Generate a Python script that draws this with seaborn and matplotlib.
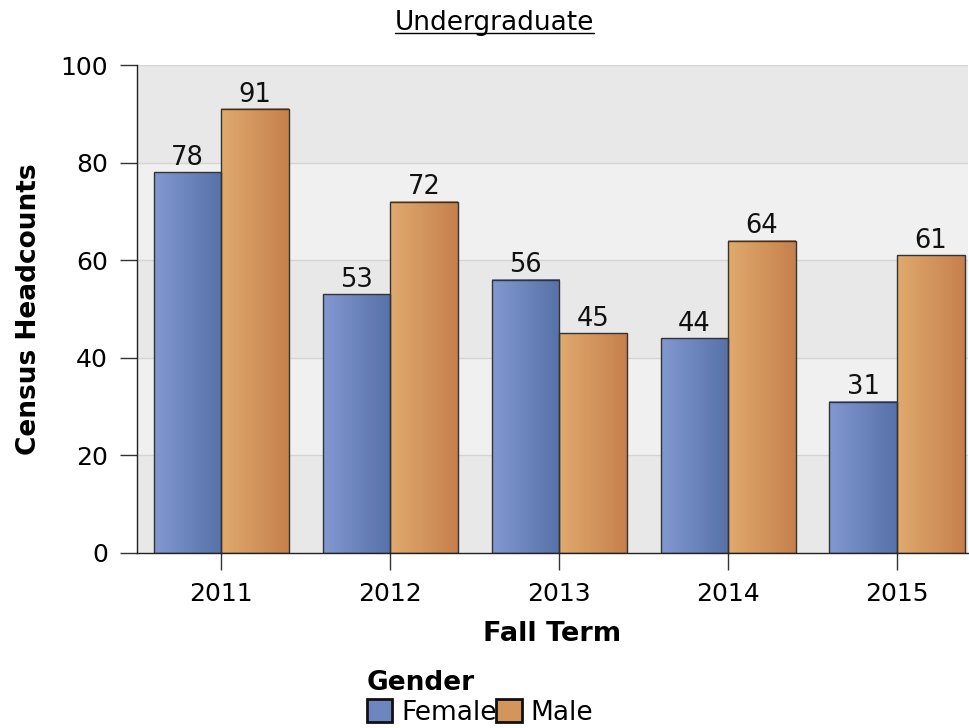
import numpy as np
import pandas as pd
import seaborn as sns
import matplotlib.pyplot as plt
from matplotlib.patches import Patch

sns.set_theme(style="white")
plt.rcParams['font.family'] = ['DejaVu Sans']
plt.rcParams['text.color'] = 'black'
plt.rcParams['axes.labelcolor'] = 'black'
plt.rcParams['xtick.color'] = 'black'
plt.rcParams['ytick.color'] = 'black'

terms = ["2011", "2012", "2013", "2014", "2015"]
female = [78, 53, 56, 44, 31]
male = [91, 72, 45, 64, 61]

df = pd.DataFrame({
    "Fall Term": terms * 2,
    "Census Headcounts": female + male,
    "Gender": ["Female"] * 5 + ["Male"] * 5,
})

grad = {
    "Female": ("#8298d0", "#5672a8"),
    "Male": ("#e0aa6e", "#c6804c"),
}
mid = {"Female": "#6d86bf", "Male": "#d4955d"}

fig = plt.figure(figsize=(9.7, 7.28), dpi=100)
ax = fig.add_axes([0.1412, 0.2404, 0.8567, 0.6703])

# alternating bands
for i, lo in enumerate(range(0, 100, 20)):
    ax.axhspan(lo, lo + 20, color="#e8e8e8" if i % 2 == 0 else "#f0f0f0", zorder=0, lw=0)
for v in [20, 40, 60, 80, 100]:
    ax.axhline(v, color="#d4d4d4", lw=1, zorder=0.5)

sns.barplot(data=df, x="Fall Term", y="Census Headcounts", hue="Gender",
            palette=mid, edgecolor="#333333", linewidth=1, width=0.8,
            legend=False, ax=ax, zorder=2)

# horizontal gradient fill on every bar
for cont, g in zip(ax.containers, ["Female", "Male"]):
    c0, c1 = grad[g]
    rgb0 = np.array(plt.matplotlib.colors.to_rgb(c0))
    rgb1 = np.array(plt.matplotlib.colors.to_rgb(c1))
    t = np.linspace(0, 1, 64)[None, :, None]
    img = rgb0 + (rgb1 - rgb0) * t
    for p in cont:
        x, w, h = p.get_x(), p.get_width(), p.get_height()
        ax.imshow(img, extent=[x, x + w, 0, h], aspect="auto", zorder=1.5,
                  interpolation="bilinear")
        p.set_facecolor("none")
    ax.bar_label(cont, fontsize=18.5, padding=1, color="#111111")

ax.set_xlim(-0.5, 4.42)
ax.set_ylim(0, 100)
ax.set_yticks([0, 20, 40, 60, 80, 100])
ax.tick_params(axis="both", labelsize=18, length=12, width=1, color="#333333",
               left=True, bottom=True)
ax.tick_params(axis="y", pad=9)
ax.tick_params(axis="x", pad=9)
ax.set_xlabel("Fall Term", fontsize=19.5, fontweight="bold", labelpad=11)
ax.set_ylabel("Census Headcounts", fontsize=19, fontweight="bold", labelpad=13)
for s in ["top", "right"]:
    ax.spines[s].set_visible(False)
for s in ["left", "bottom"]:
    ax.spines[s].set_color("#222222")
    ax.spines[s].set_linewidth(1)

# underlined title
title = fig.text(0.510, 0.969, "Undergraduate", fontsize=19, ha="center", va="center")
fig.canvas.draw()
bb = title.get_window_extent().transformed(fig.transFigure.inverted())
fig.add_artist(plt.Line2D([bb.x0, bb.x1], [bb.y0 + 0.003, bb.y0 + 0.003],
                          color="black", lw=1, transform=fig.transFigure))

handles = [Patch(facecolor=mid[g], edgecolor="#111111", linewidth=2, label=g)
           for g in ["Female", "Male"]]
leg = fig.legend(handles=handles, title="Gender", ncol=2, loc="upper left",
                 bbox_to_anchor=(0.378, 0.079), frameon=False, fontsize=19,
                 title_fontproperties={"weight": "bold", "size": 19},
                 alignment="left", handlelength=0.95, handleheight=0.95,
                 handletextpad=0.35, columnspacing=0.0, borderpad=0,
                 borderaxespad=0, labelspacing=0.1)

fig.savefig("out.png", dpi=100)
